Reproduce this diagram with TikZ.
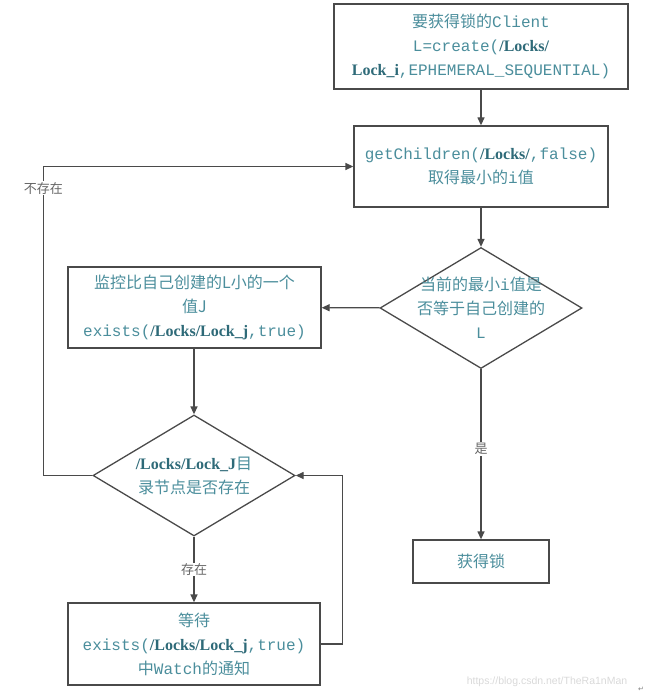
\documentclass[tikz,border=0pt]{standalone}
\usepackage{fontspec}
\setmainfont{Noto Sans CJK SC}
\setmonofont{Liberation Mono}
\newfontfamily\lkfont{Liberation Serif}
\newfontfamily\wmfont{Liberation Sans}
\newfontfamily\symfont{DejaVu Sans}
\usetikzlibrary{shapes.geometric,arrows.meta}
\definecolor{txtteal}{HTML}{4B8E9C}
\definecolor{lkteal}{HTML}{2E6A78}
\definecolor{linegray}{HTML}{4A4A4A}
\newcommand{\lk}[1]{{\lkfont\bfseries\color{lkteal}#1}}
\begin{document}
\begin{tikzpicture}[x=1pt,y=-1pt,line width=1.3pt,draw=linegray,
	>={Triangle[length=8pt,width=7pt]},
	box/.style={rectangle, draw, fill=white, align=center, text=txtteal, inner sep=2pt,
		font=\fontsize{16}{24}\selectfont},
	choice/.style={diamond, draw, fill=white, inner sep=0pt},
	inner/.style={align=center, text=txtteal, font=\fontsize{16}{24}\selectfont},
	lbl/.style={fill=white, text=black!60, inner sep=1pt, font=\fontsize{13}{15}\selectfont}]
	\useasboundingbox (0,0) rectangle (650,695);
	\node (client) at (481, 46.5)	[box, minimum width=294pt, minimum height=85pt]
		{要获得锁的\texttt{Client}\\\texttt{L=create(}\lk{/Locks/}\\\lk{Lock\_i}\texttt{,EPHEMERAL\_SEQUENTIAL)}};
	\node (children) at (481, 166.5)	[box, minimum width=254pt, minimum height=81pt]
		{\texttt{getChildren(}\lk{/Locks/}\texttt{,false)}\\取得最小的\texttt{i}值};
	\node (least) at (481, 308)	[choice, minimum width=202pt, minimum height=121pt,
		label={[inner]center:当前的最小\texttt{i}值是\\否等于自己创建的\\\texttt{L}}] {};
	\node (watchj) at (194.5, 307.5)	[box, minimum width=253pt, minimum height=81pt]
		{监控比自己创建的L小的一个\\值J\\\texttt{exists(}\lk{/Locks/Lock\_j}\texttt{,true)}};
	\node (exist) at (194, 475.5)	[choice, minimum width=202pt, minimum height=121pt,
		label={[inner]center:\lk{/Locks/Lock\_J}目\\录节点是否存在}] {};
	\node (wait) at (194, 644)	[box, minimum width=252pt, minimum height=82pt]
		{等待\\\texttt{exists(}\lk{/Locks/Lock\_j}\texttt{,true)}\\中\texttt{Watch}的通知};
	\node (gotlock) at (481, 561.5)	[box, minimum width=136pt, minimum height=43pt]	{获得锁};
	\node (mark) at (547, 682)	[text=black!15, font=\wmfont\fontsize{10.5}{12}\selectfont]	{https://blog.csdn.net/TheRa1nMan};
	\node (ret) at (641, 689)	[text=black!50, font=\symfont\fontsize{7}{8}\selectfont, inner sep=0pt]	{↵};
	\draw[->] (client) -- (children);
	\draw[->] (children) -- (least);
	\draw[->] (least) -- (watchj);
	\draw[->] (least) -- node[lbl, pos=0.47] {是} (gotlock);
	\draw[->] (watchj.south -| exist.north) -- (exist.north);
	\draw[->] (exist) -- node[lbl, pos=0.5] {存在} (wait);
	\draw[->] (wait.east) -- ++(22,0) |- (exist.east);
	\draw[->] (exist.west) -- ++(-49,0) |- node[lbl, pos=0.465] {不存在} (children.west);
\end{tikzpicture}
\end{document}
